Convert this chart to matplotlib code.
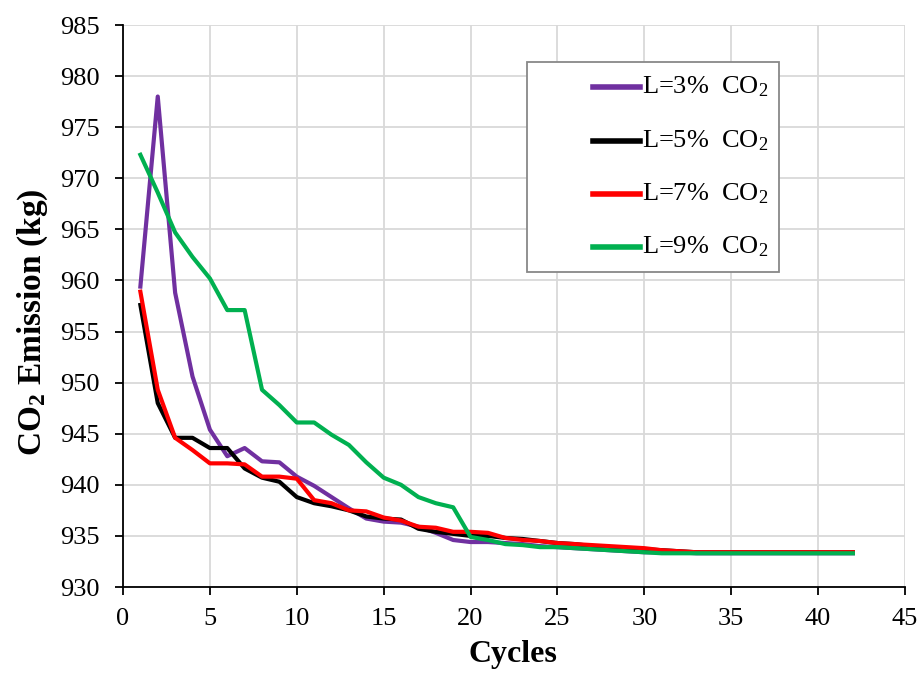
import matplotlib
matplotlib.use("Agg")
import matplotlib.pyplot as plt
from matplotlib.patches import Rectangle
from matplotlib.lines import Line2D

plt.rcParams['font.family'] = ['Liberation Serif', 'DejaVu Serif']
plt.rcParams['mathtext.fontset'] = 'custom'
plt.rcParams['mathtext.rm'] = 'Liberation Serif'
plt.rcParams['mathtext.bf'] = 'Liberation Serif:bold'
plt.rcParams['mathtext.it'] = 'Liberation Serif:italic'

cycles = list(range(1, 43))
l3 = [959.4, 978.0, 958.8, 950.6, 945.4, 942.8, 943.6, 942.3, 942.2, 940.8,
      939.9, 938.8, 937.7, 936.7, 936.4, 936.3, 935.9, 935.3, 934.6, 934.4,
      934.4, 934.3, 934.2, 934.0, 933.9, 933.8, 933.7, 933.6, 933.5, 933.4,
      933.4, 933.4, 933.3, 933.3, 933.3, 933.3, 933.3, 933.3, 933.3, 933.3,
      933.3, 933.3]
l5 = [957.6, 948.0, 944.6, 944.6, 943.6, 943.6, 941.6, 940.7, 940.3, 938.8,
      938.2, 937.9, 937.5, 936.9, 936.7, 936.6, 935.7, 935.4, 935.2, 935.0,
      935.0, 934.8, 934.7, 934.5, 934.3, 934.2, 934.0, 933.9, 933.8, 933.7,
      933.6, 933.5, 933.4, 933.4, 933.4, 933.4, 933.4, 933.4, 933.4, 933.4,
      933.4, 933.4]
l7 = [958.9, 949.3, 944.6, 943.4, 942.1, 942.1, 942.0, 940.8, 940.8, 940.6,
      938.5, 938.2, 937.5, 937.4, 936.8, 936.5, 935.9, 935.8, 935.4, 935.4,
      935.3, 934.8, 934.6, 934.5, 934.3, 934.2, 934.1, 934.0, 933.9, 933.8,
      933.6, 933.5, 933.4, 933.4, 933.4, 933.4, 933.4, 933.4, 933.4, 933.4,
      933.4, 933.4]
l9 = [972.3, 968.6, 964.7, 962.3, 960.2, 957.1, 957.1, 949.3, 947.8, 946.1,
      946.1, 944.9, 943.9, 942.2, 940.7, 940.0, 938.8, 938.2, 937.8, 934.9,
      934.6, 934.2, 934.1, 933.9, 933.9, 933.8, 933.7, 933.6, 933.5, 933.4,
      933.3, 933.3, 933.3, 933.3, 933.3, 933.3, 933.3, 933.3, 933.3, 933.3,
      933.3, 933.3]

labels = ["L=3%  CO$_2$", "L=5%  CO$_2$", "L=7%  CO$_2$", "L=9%  CO$_2$"]
colors = ["#7030A0", "#000000", "#FF0000", "#00B050"]
x_ticks = list(range(0, 46, 5))
y_ticks = list(range(930, 986, 5))

W, H = 920, 675
fig = plt.figure(figsize=(W / 100, H / 100), dpi=100)
ax = fig.add_axes([123 / W, 1 - 587 / H, (905 - 123) / W, (587 - 25) / H])

for y, lab, c in zip([l3, l5, l7, l9], labels, colors):
    ax.plot(cycles, y, color=c, lw=3.0, label=lab, solid_joinstyle='round')

ax.set_xlim(0, 45)
ax.set_ylim(930, 985)
ax.set_xticks(x_ticks)
ax.set_yticks(y_ticks)
ax.grid(True, color='#d9d9d9', lw=1.3)
ax.set_axisbelow(True)
for s in ['top', 'right']:
    ax.spines[s].set_visible(False)
for s in ['left', 'bottom']:
    ax.spines[s].set_color('black')
    ax.spines[s].set_linewidth(1.3)
ax.tick_params(axis='both', labelsize=19, direction='out', length=6, width=1.3)
ax.tick_params(axis='y', pad=11)
ax.tick_params(axis='x', pad=9)

ax.set_xlabel("Cycles", fontsize=23, fontweight='bold')
ax.xaxis.set_label_coords((513 - 123) / 782, (587 - 640) / 562)
ax.set_ylabel(r"CO$_\mathbf{2}$ Emission (kg)", fontsize=24, fontweight='bold')
ax.yaxis.set_label_coords((50 - 123) / 782, (587 - 322) / 562)

def fx(px):
    return px / W

def fy(py):
    return 1 - py / H

fig.patches.append(Rectangle((fx(527), fy(272)), fx(779) - fx(527), fy(62) - fy(272),
                             transform=fig.transFigure, facecolor='white',
                             edgecolor='#888888', lw=1.3, zorder=5))
rows = [87, 141, 194, 247]
for lab, c, ry in zip(labels, colors, rows):
    fig.lines.append(Line2D([fx(593), fx(640)], [fy(ry), fy(ry)], color=c, lw=4,
                            transform=fig.transFigure, zorder=6))
    fig.text(fx(642), fy(ry), lab, fontsize=19, va='center', ha='left', zorder=6)

fig.savefig("out.png", dpi=100)
